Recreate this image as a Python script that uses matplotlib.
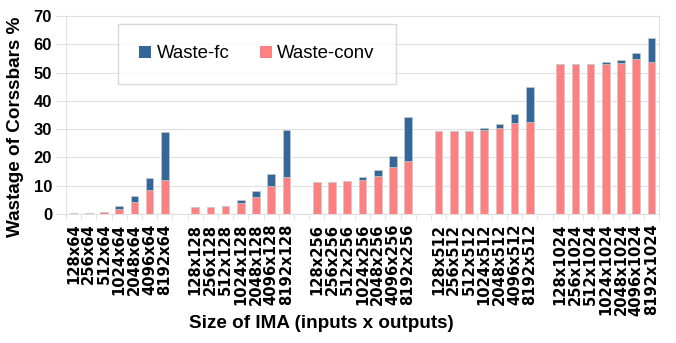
import matplotlib
matplotlib.use('Agg')
import matplotlib.pyplot as plt
import numpy as np

# ---- data ----
groups = ['64', '128', '256', '512', '1024']
inputs = ['128', '256', '512', '1024', '2048', '4096', '8192']

waste_conv = [
    [0.3, 0.5, 0.8, 1.8, 4.3, 8.4, 12.0],
    [2.5, 2.5, 2.8, 3.9, 6.0, 9.8, 13.1],
    [11.3, 11.3, 11.5, 12.1, 13.5, 16.7, 18.7],
    [29.3, 29.3, 29.3, 29.7, 30.5, 32.3, 32.4],
    [53.0, 53.0, 53.0, 53.2, 53.5, 54.9, 53.8],
]
waste_total = [
    [0.3, 0.5, 0.8, 2.8, 6.5, 12.6, 28.9],
    [2.5, 2.5, 2.8, 4.8, 8.1, 14.0, 29.8],
    [11.3, 11.3, 11.6, 13.0, 15.5, 20.5, 34.2],
    [29.3, 29.3, 29.4, 30.4, 31.8, 35.2, 44.9],
    [53.0, 53.0, 53.1, 53.7, 54.4, 56.9, 62.2],
]

C_FC = '#336699'
C_CONV = '#ff8080'
GRID = '#e0e0e0'

plt.rcParams['font.family'] = ['Liberation Sans', 'DejaVu Sans']

fig = plt.figure(figsize=(6.76, 3.43), dpi=100)
ax = fig.add_axes([66 / 676, 1 - 214 / 343, 593 / 676, 198 / 343])

pos, labels, conv, fc = [], [], [], []
for g, grp in enumerate(groups):
    for i, inp in enumerate(inputs):
        pos.append(g * 8 + i)
        labels.append(f'{inp}x{grp}')
        conv.append(waste_conv[g][i])
        fc.append(waste_total[g][i] - waste_conv[g][i])

ax.bar(pos, conv, width=0.5, color=C_CONV, edgecolor='#c8c8c8', linewidth=0.5,
       label='Waste-conv', zorder=3)
ax.bar(pos, fc, width=0.5, bottom=conv, color=C_FC, edgecolor='#c8c8c8',
       linewidth=0.5, label='Waste-fc', zorder=3)

ax.set_xlim(-0.5, 38.5)
ax.set_ylim(0, 70)
ax.set_yticks(np.arange(0, 71, 10))
ax.yaxis.grid(True, color=GRID, linewidth=0.8, zorder=0)
ax.set_axisbelow(True)
for s in ax.spines.values():
    s.set_color(GRID)
    s.set_linewidth(0.8)

ax.set_xticks(pos)
ax.set_xticklabels(labels, rotation=90, fontsize=10.6, fontweight='bold',
                   family='DejaVu Sans')
ax.set_xticks(np.arange(-0.5, 39, 1), minor=True)
ax.tick_params(axis='x', which='major', length=0, pad=7)
ax.tick_params(axis='x', which='minor', length=4, color=GRID)
ax.tick_params(axis='y', length=7, color=GRID, pad=3)
for t in ax.get_yticklabels():
    t.set_fontsize(12)
    t.set_fontweight('bold')

ax.set_ylabel('Wastage of Corssbars %', fontsize=13.6, fontweight='bold')
ax.yaxis.set_label_coords(-0.071, 0.44)
fig.text(321 / 676, 1 - 324 / 343, 'Size of IMA (inputs x outputs)',
         fontsize=13.6, fontweight='bold', ha='center', va='center')

h, l = ax.get_legend_handles_labels()
leg = ax.legend(h[::-1], l[::-1], ncol=2, loc='center',
                bbox_to_anchor=((257 - 66) / 593, (214 - 54) / 198),
                fontsize=13.4, frameon=True, fancybox=False, borderpad=1.15,
                handlelength=0.65, handleheight=0.65, handletextpad=0.3,
                columnspacing=1.6, borderaxespad=0)
leg.get_frame().set_edgecolor('#d0d0d0')
leg.get_frame().set_linewidth(1.0)
for p in leg.get_patches():
    p.set_edgecolor('none')

fig.savefig('out.png', dpi=100)
